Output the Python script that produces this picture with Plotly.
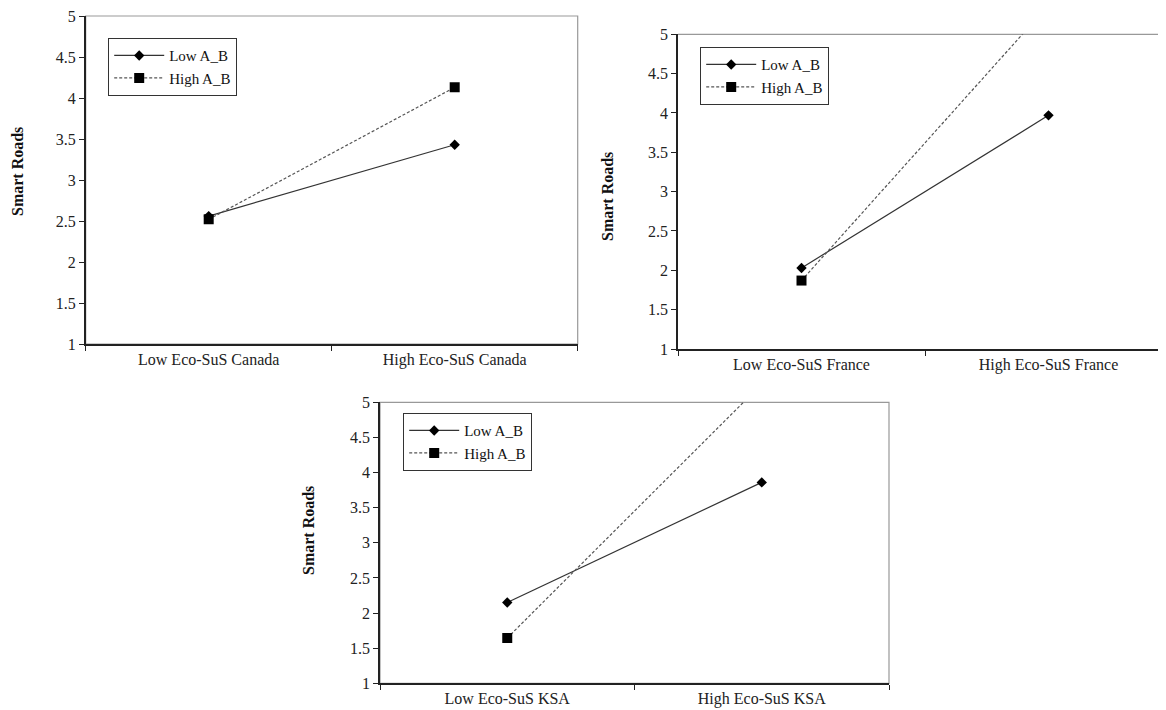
import plotly.graph_objects as go

# ---- data ----
cats_canada = ["Low Eco-SuS Canada", "High Eco-SuS Canada"]
cats_france = ["Low Eco-SuS France", "High Eco-SuS France"]
cats_ksa = ["Low Eco-SuS KSA", "High Eco-SuS KSA"]

canada_low_ab = [2.56, 3.43]
canada_high_ab = [2.52, 4.13]
france_low_ab = [2.03, 3.97]
france_high_ab = [1.87, 5.37]
ksa_low_ab = [2.15, 3.86]
ksa_high_ab = [1.645, 5.26]

series_names = ["Low A_B", "High A_B"]
y_title = "Smart Roads"
y_ticks = [1, 1.5, 2, 2.5, 3, 3.5, 4, 4.5, 5]

W, H = 1166, 710
OFF = 8  # page body margin offset of the plot div
FONT = "Liberation Serif, Times New Roman, serif"

def px(x):
    return (x - OFF) / W

def py(y):
    return 1 - (y - OFF) / H

panels = [
    dict(cats=cats_canada, low=canada_low_ab, high=canada_high_ab,
         xd=(85.7, 577.7), yd=(16, 344), leg=(108, 38), tit=(17, 172), xr=[-0.5, 1.5], box=True, gap=9),
    dict(cats=cats_france, low=france_low_ab, high=france_high_ab,
         xd=(678, 1174), yd=(34.3, 349), leg=(700, 47), tit=(608, 197), xr=[-0.5, -0.5 + (1174 - 678) / 247], box=False, gap=9),
    dict(cats=cats_ksa, low=ksa_low_ab, high=ksa_high_ab,
         xd=(380, 889), yd=(402.3, 683.3), leg=(403, 413), tit=(308, 531), xr=[-0.5, 1.5], box=True, gap=8),
]

fig = go.Figure()
layout = dict(
    width=W, height=H,
    margin=dict(l=0, r=0, t=0, b=0, autoexpand=False),
    paper_bgcolor="white", plot_bgcolor="white",
    font=dict(family=FONT, size=15, color="#222"),
    showlegend=True,
)
shapes = []
annotations = []

for i, p in enumerate(panels, start=1):
    suf = "" if i == 1 else str(i)
    xa, ya = "x" + suf, "y" + suf
    leg = "legend" + suf
    fig.add_trace(go.Scatter(
        x=p["cats"], y=p["low"], name=series_names[0], mode="lines+markers",
        line=dict(color="#333333", width=1.2),
        marker=dict(symbol="diamond", size=8, color="black"),
        xaxis=xa, yaxis=ya, legend=leg, legendgroup=f"low{i}"))
    fig.add_trace(go.Scatter(
        x=p["cats"], y=p["high"], name=series_names[1], mode="lines+markers",
        line=dict(color="#555555", width=1.2, dash="3px,2px"),
        marker=dict(symbol="square", size=10, color="black"),
        xaxis=xa, yaxis=ya, legend=leg, legendgroup=f"high{i}"))

    layout["xaxis" + suf] = dict(
        domain=[px(p["xd"][0]), min(1.0, px(p["xd"][1]))], anchor=ya,
        type="category", range=p["xr"], showgrid=False, zeroline=False,
        showline=True, linecolor="#222", linewidth=1.5,
        ticks="outside", tickson="boundaries", ticklen=5, tickcolor="#222",
        ticklabeloverflow="allow",
        tickfont=dict(family=FONT, size=16, color="#222"), fixedrange=True)
    layout["yaxis" + suf] = dict(
        domain=[py(p["yd"][1]), py(p["yd"][0])], anchor=xa,
        range=[1, 5], tickvals=y_ticks, showgrid=False, zeroline=False,
        showline=True, linecolor="#222", linewidth=1.5,
        ticks="outside", ticklen=5, tickcolor="#222",
        ticklabeloverflow="allow",
        tickfont=dict(family=FONT, size=16, color="#222"), fixedrange=True)
    layout[leg] = dict(
        x=px(p["leg"][0]), y=py(p["leg"][1]), xanchor="left", yanchor="top",
        bgcolor="white", bordercolor="#333", borderwidth=1.2,
        font=dict(family=FONT, size=15, color="#111"),
        tracegroupgap=p["gap"], traceorder="normal", itemwidth=50)
    if p["box"]:
        shapes.append(dict(type="rect", xref=f"{xa} domain", yref=f"{ya} domain",
                           x0=0, x1=1, y0=0, y1=1, line=dict(color="#999", width=1.2),
                           layer="below"))
    else:
        shapes.append(dict(type="line", xref=f"{xa} domain", yref=f"{ya} domain",
                           x0=0, x1=1, y0=1, y1=1, line=dict(color="#999", width=1.2),
                           layer="below"))
    annotations.append(dict(
        text=f"<b>{y_title}</b>", textangle=-90, showarrow=False,
        xref="paper", yref="paper", x=px(p["tit"][0]), y=py(p["tit"][1]),
        xanchor="center", yanchor="middle",
        font=dict(family=FONT, size=16, color="#111")))

layout["shapes"] = shapes
layout["annotations"] = annotations
fig.update_layout(**layout)
fig.write_html("out.html")
